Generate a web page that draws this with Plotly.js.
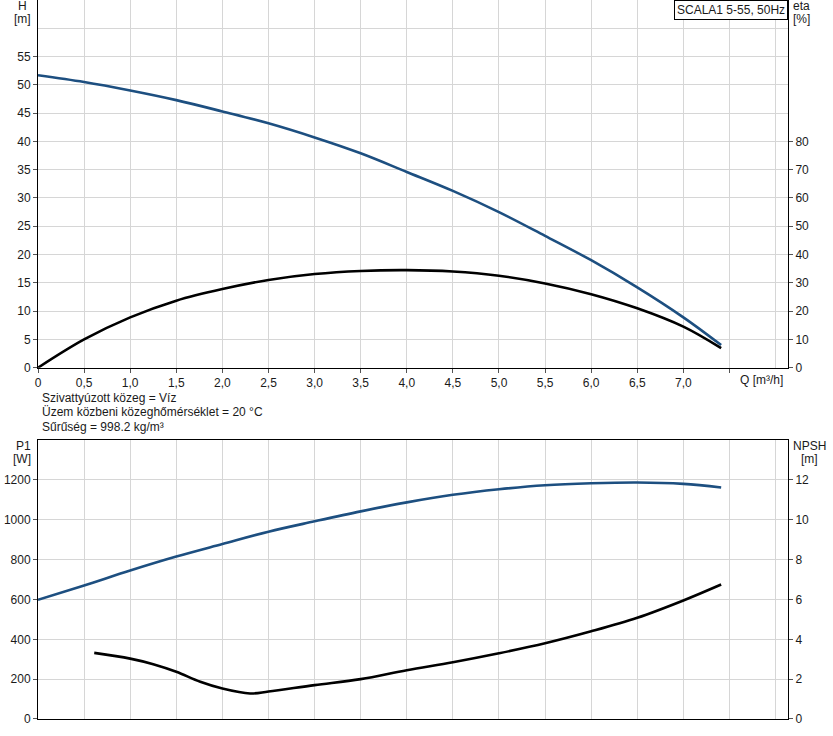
<!DOCTYPE html>
<html>
<head>
<meta charset="utf-8">
<script src="https://cdn.plot.ly/plotly-3.0.1.min.js"></script>
<style>
  html, body { margin: 0; padding: 0; background: #fff; }
  #chart { width: 833px; height: 736px; }
</style>
</head>
<body>
<div id="chart"></div>
<script>
// ------------------------------------------------------------
// data read from the curve sheet
// ------------------------------------------------------------

// flow points [m3/h]
const qPoints = [0, 0.5, 1.0, 1.5, 2.0, 2.5, 3.0, 3.5, 4.0, 4.5, 5.0, 5.5, 6.0, 6.5, 7.0, 7.41]
// head H [m]
const headValues = [51.7, 50.5, 49.0, 47.3, 45.3, 43.2, 40.7, 37.9, 34.6, 31.25, 27.5, 23.3, 19.0, 14.2, 8.9, 4.0]
// efficiency eta [%]
const etaValues = [0, 10.0, 17.8, 23.7, 27.8, 31.0, 33.1, 34.2, 34.5, 34.0, 32.5, 29.8, 26.0, 21.0, 14.5, 6.9]
// power input P1 [W]
const p1Values = [598, 670, 745, 815, 878, 940, 992, 1042, 1087, 1125, 1153, 1173, 1183, 1187, 1180, 1162]

// NPSH starts a bit later
const qNpsh = [0.61, 1.0, 1.25, 1.5, 1.76, 2.0, 2.3, 2.5, 3.0, 3.5, 4.0, 4.5, 5.0, 5.5, 6.0, 6.5, 7.0, 7.41]
const npshValues = [3.32, 3.03, 2.75, 2.37, 1.87, 1.53, 1.28, 1.38, 1.70, 2.0, 2.45, 2.85, 3.3, 3.8, 4.4, 5.08, 5.95, 6.75]

// tick labels
const qTickVals = [0, 0.5, 1.0, 1.5, 2.0, 2.5, 3.0, 3.5, 4.0, 4.5, 5.0, 5.5, 6.0, 6.5, 7.0, 7.5]
const qTickText = ['0', '0,5', '1,0', '1,5', '2,0', '2,5', '3,0', '3,5', '4,0', '4,5', '5,0', '5,5', '6,0', '6,5', '7,0', '']
const hTickVals = [0, 5, 10, 15, 20, 25, 30, 35, 40, 45, 50, 55]
const etaTickVals = [0, 10, 20, 30, 40, 50, 60, 70, 80]
const p1TickVals = [0, 200, 400, 600, 800, 1000, 1200]
const npshTickVals = [0, 2, 4, 6, 8, 10, 12]

const mediumLines = [
    'Szivattyúzott közeg = Víz',
    'Üzem közbeni közeghőmérséklet = 20 °C',
    'Sűrűség = 998.2 kg/m³'
]
const pumpName = 'SCALA1 5-55, 50Hz'

// ------------------------------------------------------------
// styling
// ------------------------------------------------------------
const BLUE = '#1d4f80'
const GRID = '#d6d6d6'
const TXT = '#1a1a1a'
const FONT = 'Liberation Sans, Arial, sans-serif'

const curve = (x, y, color, xa, ya) => ({
    x: x, y: y, xaxis: xa, yaxis: ya,
    type: 'scatter', mode: 'lines',
    line: { color: color, width: 2.6, shape: 'spline', smoothing: 1 },
    hoverinfo: 'skip', showlegend: false
})

const traces = [
    curve(qPoints, headValues, BLUE, 'x', 'y'),
    curve(qPoints, etaValues, '#000', 'x', 'y2'),
    curve(qPoints, p1Values, BLUE, 'x2', 'y3'),
    curve(qNpsh, npshValues, '#000', 'x2', 'y4')
]

const xRange = [0, 8.135]
const topDomain = [0.4886, 1]
const bottomDomain = [0, 0.388]

const baseAxis = {
    showline: true, linecolor: '#000', linewidth: 1,
    ticks: 'outside', ticklen: 4, tickcolor: '#555',
    gridcolor: GRID, gridwidth: 1, zeroline: false,
    tickfont: { family: FONT, size: 12, color: TXT },
    fixedrange: true
}

const layout = {
    width: 833, height: 736,
    margin: { l: 38, r: 45, t: 0, b: 17 },
    paper_bgcolor: '#fff', plot_bgcolor: '#fff',
    font: { family: FONT, size: 12, color: TXT },
    xaxis: Object.assign({}, baseAxis, {
        domain: [0, 1], anchor: 'y', range: xRange,
        tickmode: 'array', tickvals: qTickVals, ticktext: qTickText,
        minor: { tick0: 0, dtick: 0.5, showgrid: true, gridcolor: GRID, ticks: '' }
    }),
    yaxis: Object.assign({}, baseAxis, {
        domain: topDomain, anchor: 'x', range: [0, 65],
        tickmode: 'array', tickvals: hTickVals,
        minor: { tick0: 0, dtick: 5, showgrid: true, gridcolor: GRID, ticks: '' }
    }),
    yaxis2: Object.assign({}, baseAxis, {
        overlaying: 'y', side: 'right', anchor: 'x', range: [0, 130],
        tickmode: 'array', tickvals: etaTickVals, showgrid: false
    }),
    xaxis2: Object.assign({}, baseAxis, {
        domain: [0, 1], anchor: 'y3', range: xRange,
        tick0: 0, dtick: 0.5, ticks: '', showticklabels: false,
        mirror: true
    }),
    yaxis3: Object.assign({}, baseAxis, {
        domain: bottomDomain, anchor: 'x2', range: [0, 1400],
        tickmode: 'array', tickvals: p1TickVals
    }),
    yaxis4: Object.assign({}, baseAxis, {
        overlaying: 'y3', side: 'right', anchor: 'x2', range: [0, 14],
        tickmode: 'array', tickvals: npshTickVals, showgrid: false
    }),
    annotations: []
}

const note = (text, x, y, xanchor, yanchor, extra) => Object.assign({
    text: text, xref: 'paper', yref: 'paper', x: x, y: y,
    xanchor: xanchor, yanchor: yanchor, showarrow: false,
    font: { family: FONT, size: 12, color: TXT }
}, extra || {})

// axis titles, each line on its own so the spacing stays tight
const titleLines = [
    ['H', -0.0204, 0.9917], ['[m]', -0.0204, 0.9736],
    ['eta', 1.018, 0.9917], ['[%]', 1.018, 0.9736],
    ['P1', -0.0195, 0.3797], ['[W]', -0.0215, 0.3616],
    ['NPSH', 1.0287, 0.3797], ['[m]', 1.0293, 0.3616]
]
titleLines.forEach(t => layout.annotations.push(note(t[0], t[1], t[2], 'center', 'middle')))
layout.annotations.push(note('Q [m³/h]', 0.9647, 0.4715, 'center', 'middle'))

// pumped medium info
const infoY = [0.446, 0.4266, 0.4065]
mediumLines.forEach((t, i) => {
    layout.annotations.push(note(t, 0.003, infoY[i], 'left', 'middle'))
})

// pump name box
layout.annotations.push(note(pumpName, 1.0, 1.0, 'right', 'top', {
    bordercolor: '#000', borderwidth: 1, borderpad: 2, bgcolor: '#fff'
}))

Plotly.newPlot('chart', traces, layout, { staticPlot: true, displayModeBar: false })
</script>
</body>
</html>
